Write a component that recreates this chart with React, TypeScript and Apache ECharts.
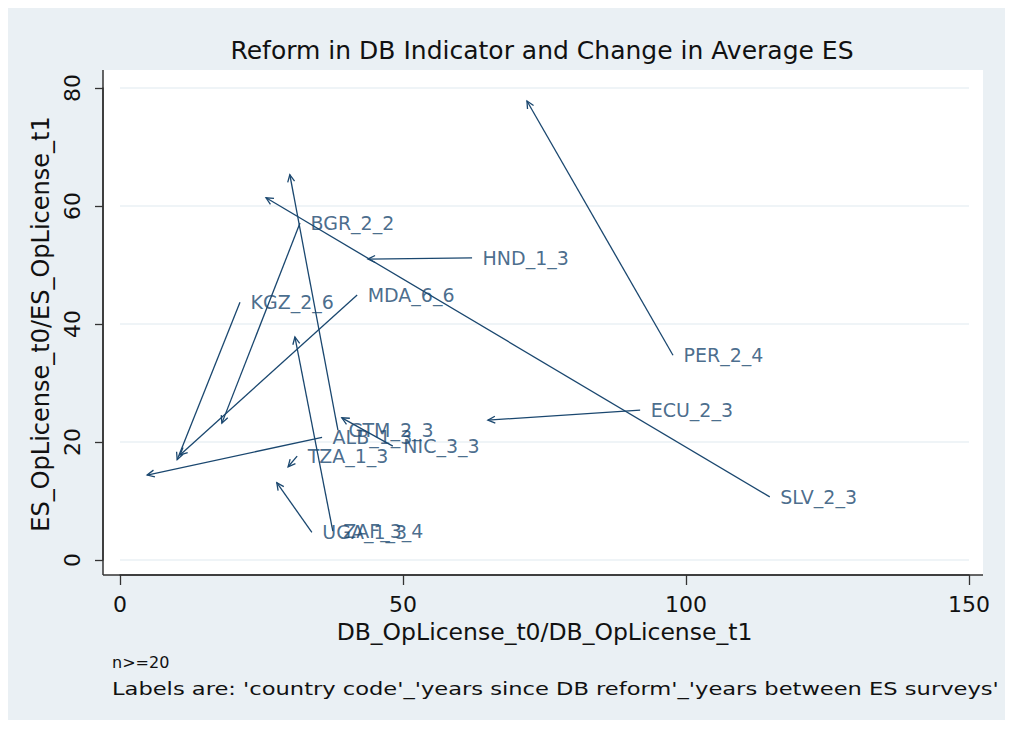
import React, { useEffect, useRef } from "react";
import * as echarts from "echarts";

// Arrow data: tail (t0) -> head (t1)
const labels = ["PER_2_4", "SLV_2_3", "ECU_2_3", "HND_1_3", "BGR_2_2", "GTM_2_3", "ALB_1_3", "NIC_3_3", "KGZ_2_6", "MDA_6_6", "TZA_1_3", "UGA_1_3", "ZAF_3_4"];
const x0 = [97.7, 114.8, 91.9, 62.2, 31.8, 38.5, 35.7, 48.2, 21.2, 41.9, 31.3, 33.9, 37.6];
const y0 = [34.7, 10.7, 25.4, 51.2, 57.1, 22.0, 20.8, 19.3, 43.7, 44.9, 17.6, 4.7, 4.9];
const x1 = [71.9, 25.8, 65.0, 43.8, 18.0, 30.0, 4.8, 39.2, 10.1, 10.6, 29.7, 27.7, 30.9];
const y1 = [77.8, 61.4, 23.7, 51.0, 23.2, 65.3, 14.4, 24.1, 17.0, 17.8, 15.8, 13.1, 37.8];

const xTicks = { min: 0, max: 150, interval: 50 };
const yTicks = { min: 0, max: 80, interval: 20 };

const NAVY = "#1A476F";
const FONT = "DejaVu Sans";
const BG = "#EAF0F4";
const AXIS = "#333";

export default function App() {
  const ref = useRef<HTMLDivElement>(null);
  useEffect(() => {
    if (!ref.current) return;
    const chart = echarts.init(ref.current, undefined, { renderer: "svg" });
    const arrowData = labels.map((l, i) => [x0[i], y0[i], x1[i], y1[i]]);
    const tailData = labels.map((l, i) => ({ value: [x0[i], y0[i]], name: l }));
    chart.setOption({
      animation: false,
      backgroundColor: BG,
      grid: { left: 112, right: 36, top: 80, bottom: 168, containLabel: false },
      xAxis: {
        type: "value",
        min: xTicks.min,
        max: xTicks.max,
        interval: xTicks.interval,
        offset: 15,
        axisLine: { show: true, onZero: false, lineStyle: { color: AXIS, width: 1.5 } },
        axisTick: { show: true, length: 10, lineStyle: { color: AXIS, width: 1.3 } },
        axisLabel: { margin: 18, fontSize: 22, fontFamily: FONT, color: "#111" },
        splitLine: { show: false },
        name: "DB_OpLicense_t0/DB_OpLicense_t1",
        nameLocation: "middle",
        nameGap: 37,
        nameTextStyle: { fontSize: 23.5, fontFamily: FONT, color: "#111" },
      },
      yAxis: {
        type: "value",
        min: yTicks.min,
        max: yTicks.max,
        interval: yTicks.interval,
        offset: 17,
        axisLine: { show: true, onZero: false, lineStyle: { color: AXIS, width: 1.5 } },
        axisTick: { show: true, length: 8, lineStyle: { color: AXIS, width: 1.3 } },
        axisLabel: { margin: 20, fontSize: 22, fontFamily: FONT, color: "#111", rotate: 90 },
        splitLine: { show: true, lineStyle: { color: "#EAF0F4", width: 1.5 } },
        name: "ES_OpLicense_t0/ES_OpLicense_t1",
        nameLocation: "middle",
        nameGap: 39,
        nameRotate: 90,
        nameTextStyle: { fontSize: 24, fontFamily: FONT, color: "#111" },
      },
      graphic: [
        { type: "rect", z: -10, shape: { x: 95, y: 62, width: 880, height: 505 }, style: { fill: "#fff" } },
        { type: "line", z: 10, shape: { x1: 95, y1: 567, x2: 975, y2: 567 }, style: { stroke: AXIS, lineWidth: 1.5 } },
        { type: "line", z: 10, shape: { x1: 95, y1: 62, x2: 95, y2: 567 }, style: { stroke: AXIS, lineWidth: 1.5 } },
        {
          type: "text", x: 534, y: 42,
          style: { text: "Reform in DB Indicator and Change in Average ES", fontSize: 25, fontFamily: FONT, fill: "#111", textAlign: "center", textVerticalAlign: "middle" },
        },
        {
          type: "text", x: 104, y: 654,
          style: { text: "n>=20", fontSize: 16, fontFamily: FONT, fill: "#111", textAlign: "left", textVerticalAlign: "middle" },
        },
        {
          type: "text", x: 104, y: 681, scaleX: 1.255,
          style: { text: "Labels are: 'country code'_'years since DB reform'_'years between ES surveys'", fontSize: 18, fontFamily: FONT, fill: "#111", textAlign: "left", textVerticalAlign: "middle" },
        },
      ],
      series: [
        {
          type: "custom",
          data: arrowData,
          z: 3,
          renderItem: (params: any, api: any) => {
            const p0 = api.coord([api.value(0), api.value(1)]);
            const p1 = api.coord([api.value(2), api.value(3)]);
            const ang = Math.atan2(p1[1] - p0[1], p1[0] - p0[0]);
            const L = 8;
            const a = 0.45;
            const b1 = [p1[0] - L * Math.cos(ang - a), p1[1] - L * Math.sin(ang - a)];
            const b2 = [p1[0] - L * Math.cos(ang + a), p1[1] - L * Math.sin(ang + a)];
            return {
              type: "group",
              children: [
                { type: "line", shape: { x1: p0[0], y1: p0[1], x2: p1[0], y2: p1[1] }, style: { stroke: NAVY, lineWidth: 1.3, fill: "none" } },
                { type: "polyline", shape: { points: [b1, p1, b2] }, style: { stroke: NAVY, lineWidth: 1.3, fill: "none" } },
              ],
            };
          },
        },
        {
          type: "scatter",
          data: tailData,
          symbolSize: 1,
          itemStyle: { color: "rgba(0,0,0,0)" },
          z: 4,
          label: {
            show: true,
            position: "right",
            distance: 10,
            formatter: (p: any) => p.name,
            color: NAVY,
            fontSize: 19,
            fontFamily: FONT,
          },
        },
      ],
    });
    return () => chart.dispose();
  }, []);
  return <div ref={ref} style={{ width: 997, height: 720, marginBottom: -8 }} />;
}
